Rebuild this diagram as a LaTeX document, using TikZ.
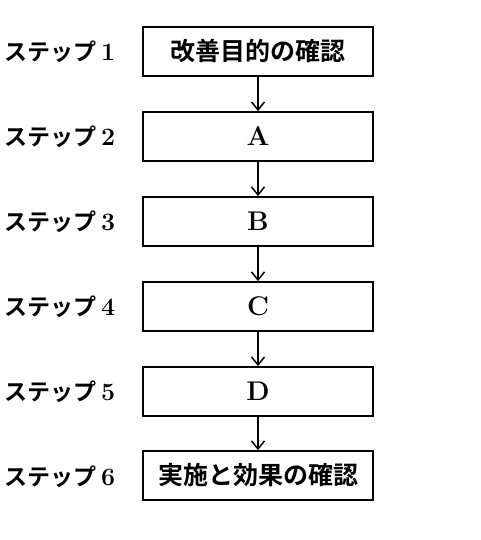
\documentclass[tikz,border=0pt]{standalone}
\usepackage{fontspec}
\newfontfamily\jpfont{Noto Sans CJK JP}[BoldFont={* Bold}]
\usetikzlibrary{arrows.meta}
\newcommand{\latn}[1]{{\fontsize{27}{27}\selectfont\rmfamily\bfseries #1}}
\newcommand{\dig}[1]{{\fontsize{25}{25}\selectfont\rmfamily\bfseries #1}}
\begin{document}
\begin{tikzpicture}[x=1pt,y=1pt,
  stepbox/.style={draw,line width=1.8pt,minimum width=230pt,minimum height=49pt,inner sep=0pt,font=\fontsize{25}{25}\selectfont\jpfont\bfseries},
  steplabel/.style={anchor=west,inner sep=0pt,font=\fontsize{23}{23}\selectfont\jpfont\bfseries},
  conn/.style={line width=1.4pt,-{Straight Barb[length=8pt,width=13pt,line width=1.5pt]}}]
\useasboundingbox (0,0) rectangle (480,-540);
\node[stepbox] (b1) at (258,-51.5) {改善目的の確認};
\node[stepbox] (b2) at (258,-136.5) {\latn{A}};
\node[stepbox] (b3) at (258,-221.5) {\latn{B}};
\node[stepbox] (b4) at (258,-306.5) {\latn{C}};
\node[stepbox] (b5) at (258,-391.5) {\latn{D}};
\node[stepbox] (b6) at (258,-475.5) {実施と効果の確認};
\foreach \i in {1,...,6}{
  \node[steplabel] (l\i) at (4,{-51.5-85*(\i-1)}) {ステップ\kern5pt\dig{\i}};
}
\draw[conn] (b1) -- (b2);
\draw[conn] (b2) -- (b3);
\draw[conn] (b3) -- (b4);
\draw[conn] (b4) -- (b5);
\draw[conn] (b5) -- (b6);
\end{tikzpicture}
\end{document}
